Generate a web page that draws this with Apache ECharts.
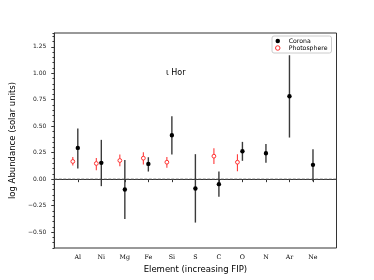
<!DOCTYPE html>
<html><head><meta charset="utf-8">
<script src="https://cdn.jsdelivr.net/npm/echarts@6/dist/echarts.min.js"></script>
<style>html,body{margin:0;padding:0;background:#fff}#c{width:374px;height:280px}</style>
</head><body><div id="c"></div>
<script>
const elements = ['Al','Ni','Mg','Fe','Si','S','C','O','N','Ar','Ne'];
const coronaVal = [0.295, 0.154, -0.097, 0.144, 0.415, -0.088, -0.047, 0.264, 0.245, 0.783, 0.135];
const coronaLo  = [0.100, -0.066, -0.377, 0.072, 0.233, -0.410, -0.167, 0.173, 0.154, 0.393, -0.019];
const coronaHi  = [0.478, 0.371, 0.180, 0.207, 0.594, 0.236, 0.072, 0.352, 0.333, 1.170, 0.283];
const photoEl  = ['Al','Ni','Mg','Fe','Si','C','O'];
const photoVal = [0.167, 0.148, 0.176, 0.198, 0.160, 0.217, 0.160];
const photoLo  = [0.130, 0.085, 0.123, 0.139, 0.107, 0.142, 0.075];
const photoHi  = [0.210, 0.200, 0.233, 0.255, 0.210, 0.292, 0.236];
const yTicks = [-0.5, -0.25, 0, 0.25, 0.5, 0.75, 1.0, 1.25];
const yMin = -0.65, yMax = 1.38;
const starName = 'ι Hor';

const xPos = elements.map((e, i) => i + 1);
const coronaData = coronaVal.map((v, i) => [xPos[i], v, coronaLo[i], coronaHi[i]]);
const photoData = photoVal.map((v, i) => [elements.indexOf(photoEl[i]) + 1, v, photoLo[i], photoHi[i]]);

function makeRender(kind) {
  return function (params, api) {
    const x = api.value(0), v = api.value(1), lo = api.value(2), hi = api.value(3);
    const p = api.coord([x, v]), pl = api.coord([x, lo]), ph = api.coord([x, hi]);
    const dx = kind === 'photo' ? -5 : 0;
    const cx = p[0] + dx;
    if (kind === 'photo') {
      return {type: 'group', children: [
        {type: 'line', shape: {x1: cx, y1: pl[1], x2: cx, y2: ph[1]}, style: {stroke: '#ff3b3b', lineWidth: 1.1}},
        {type: 'circle', shape: {cx: cx, cy: p[1], r: 1.9}, style: {fill: '#fff', stroke: '#ff3030', lineWidth: 1}}
      ]};
    }
    return {type: 'group', children: [
      {type: 'line', shape: {x1: cx, y1: pl[1], x2: cx, y2: ph[1]}, style: {stroke: '#3a3a3a', lineWidth: 1.4}},
      {type: 'circle', shape: {cx: cx, cy: p[1], r: 2.2}, style: {fill: '#000'}}
    ]};
  };
}

const chart = echarts.init(document.getElementById('c'), null, {renderer: 'canvas'});
const axisCol = '#333';
chart.setOption({
  animation: false,
  backgroundColor: '#fff',
  grid: {left: 46.5, right: 37.5, top: 33, bottom: 32, show: true, borderColor: axisCol, borderWidth: 1, backgroundColor: 'transparent'},
  xAxis: {
    type: 'value', min: 0, max: 12, interval: 1,
    name: 'Element (increasing FIP)', nameLocation: 'middle', nameGap: 14,
    nameTextStyle: {fontFamily: 'DejaVu Sans', fontSize: 8.5, color: '#000'},
    axisLine: {show: true, lineStyle: {color: axisCol, width: 1}},
    axisTick: {show: true, length: 3, lineStyle: {color: axisCol}, customValues: xPos},
    axisLabel: {customValues: xPos, margin: 6, fontFamily: 'DejaVu Serif', fontSize: 6.3, color: '#000',
      formatter: v => elements[Math.round(v) - 1] || ''},
    splitLine: {show: false}
  },
  yAxis: [{
    type: 'value', min: yMin, max: yMax,
    name: 'log Abundance (solar units)', nameLocation: 'middle', nameGap: 26,
    nameTextStyle: {fontFamily: 'DejaVu Sans', fontSize: 8.5, color: '#000'},
    axisLine: {show: true, lineStyle: {color: axisCol, width: 1}},
    axisTick: {show: true, length: 3, lineStyle: {color: axisCol}, customValues: yTicks},
    axisLabel: {customValues: yTicks, margin: 8, fontFamily: 'DejaVu Sans', fontSize: 6, color: '#222',
      formatter: v => (v < 0 ? '\u2212' : '') + Math.abs(v).toFixed(2)},
    splitLine: {show: false}
  }, {
    type: 'value', min: yMin, max: yMax, interval: 0.05, position: 'left',
    axisLine: {show: false},
    axisTick: {show: true, length: 1.8, lineStyle: {color: axisCol}},
    axisLabel: {show: false},
    splitLine: {show: false}
  }],
  legend: {
    left: 272, top: 36, orient: 'vertical',
    backgroundColor: '#fff', borderColor: '#cccccc', borderWidth: 1, borderRadius: 2,
    padding: [2, 4, 2, 3], itemGap: 1, itemWidth: 12, itemHeight: 4.5,
    textStyle: {fontFamily: 'DejaVu Sans', fontSize: 6.2, color: '#000', padding: [0, 0, 0, 0]},
    data: [
      {name: 'Corona', icon: 'circle', itemStyle: {color: '#000', borderWidth: 0}},
      {name: 'Photosphere', icon: 'circle', itemStyle: {color: '#fff', borderColor: '#ff3030', borderWidth: 1}}
    ],
    z: 10
  },
  graphic: [{
    type: 'text', left: 166, top: 69,
    style: {text: starName, font: '8px "DejaVu Sans"', fill: '#000'}
  }],
  series: [
    {type: 'line', name: 'zero', data: [[0, 0], [12, 0]], symbol: 'none', silent: true,
      lineStyle: {color: '#555', width: 1, type: [3, 1.5]}, z: 1},
    {type: 'custom', name: 'Photosphere', renderItem: makeRender('photo'), data: photoData, z: 3,
      itemStyle: {color: '#ff3030'}},
    {type: 'custom', name: 'Corona', renderItem: makeRender('corona'), data: coronaData, z: 4,
      itemStyle: {color: '#000'}}
  ]
});
</script>
</body></html>
